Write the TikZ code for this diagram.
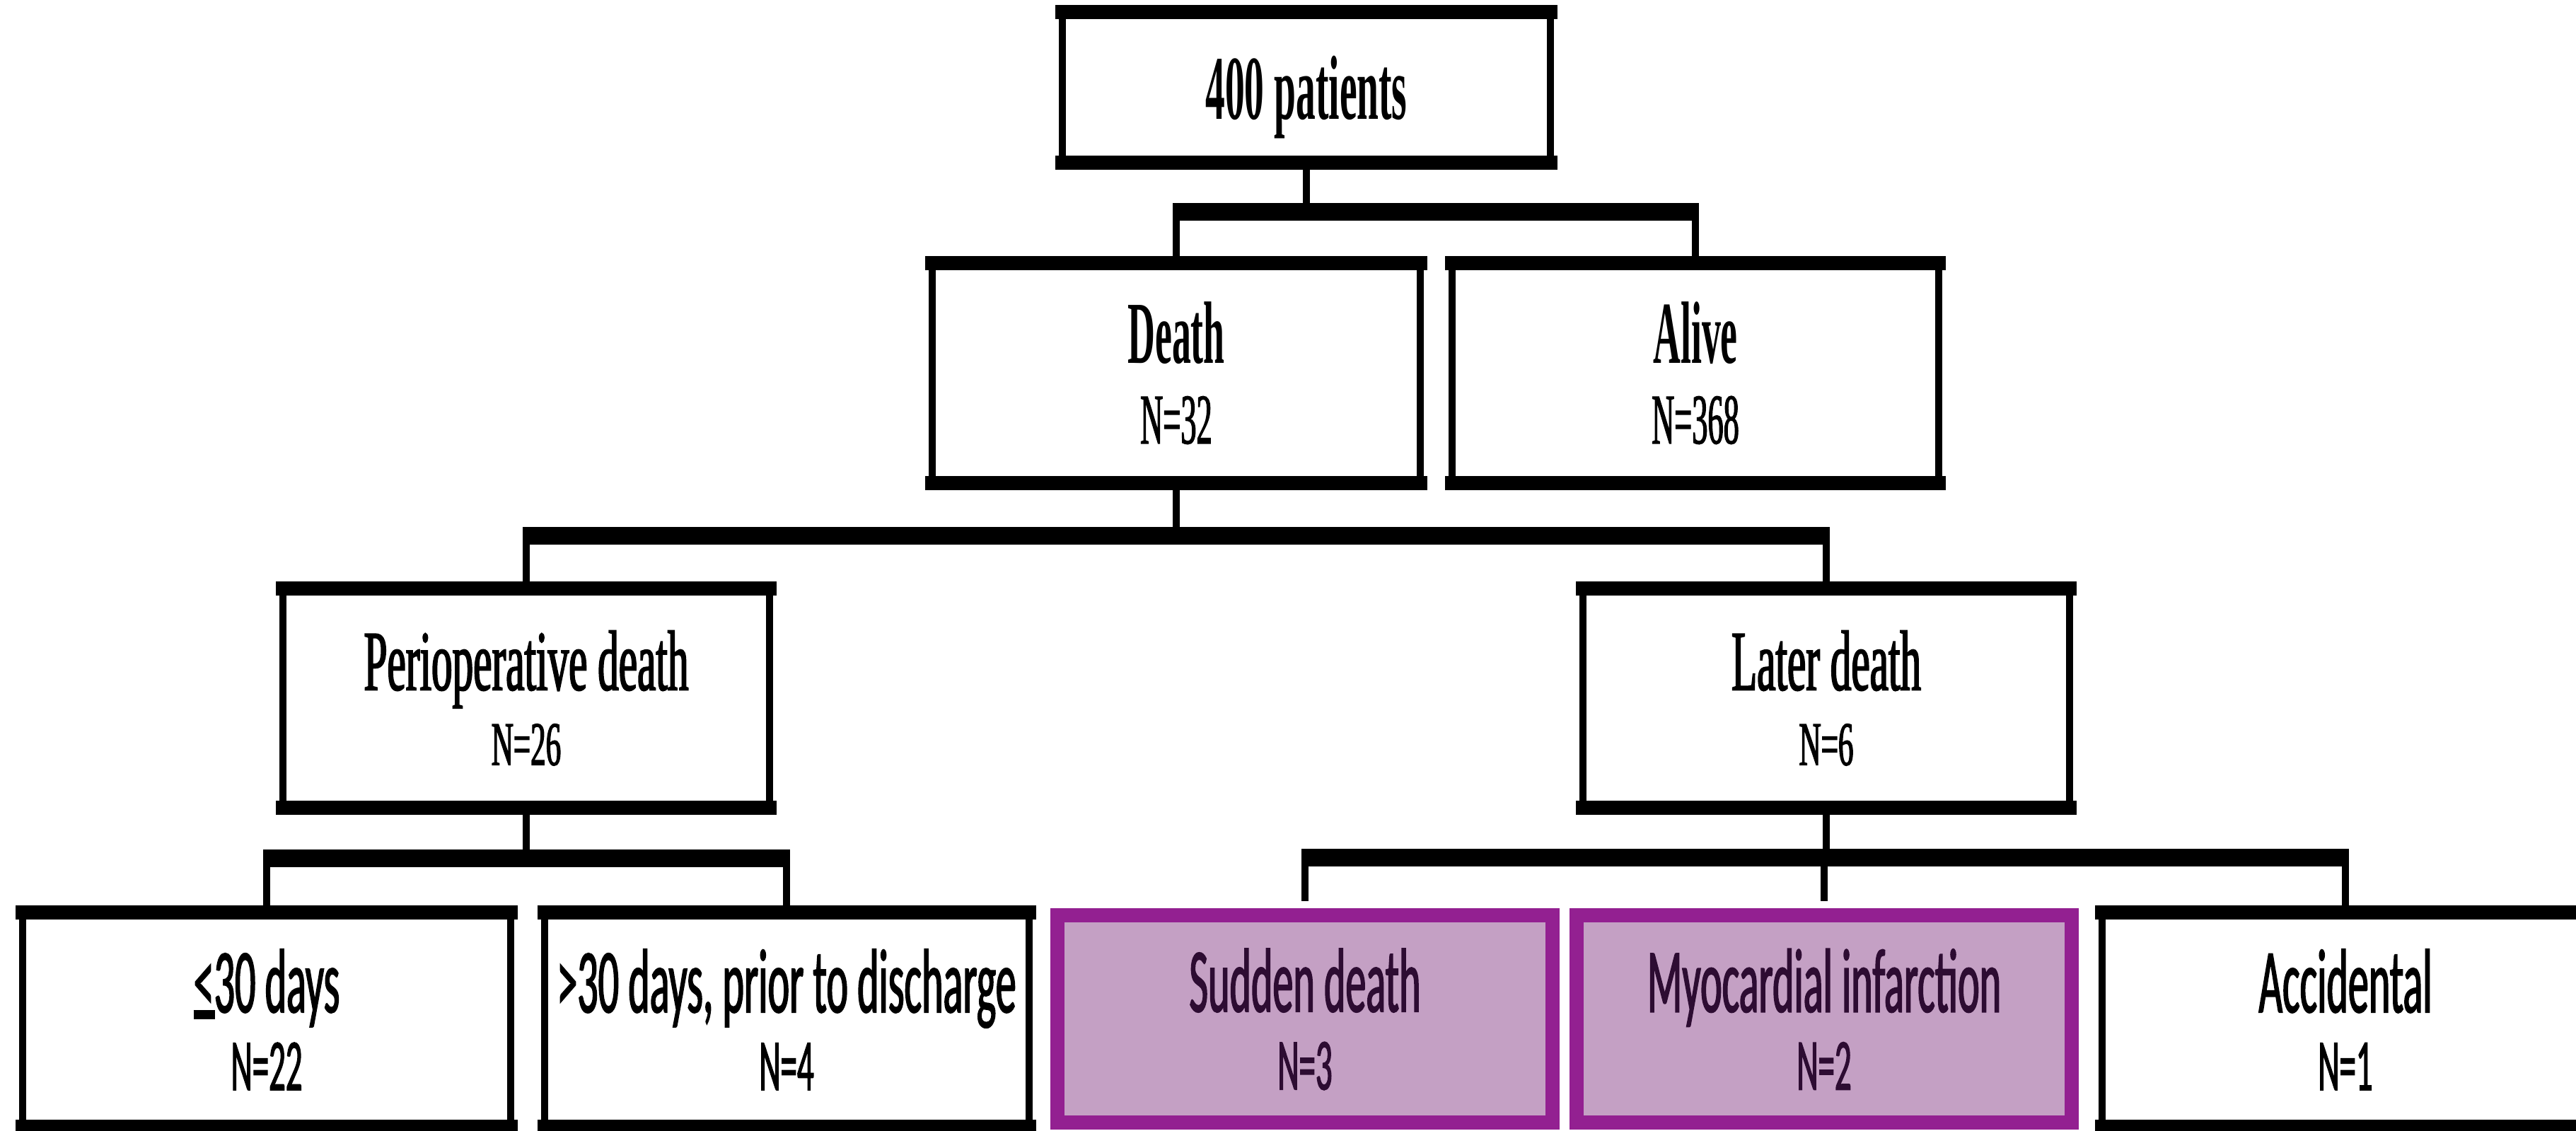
\documentclass[tikz,border=0pt]{standalone}
\usepackage{fontspec}
\usepackage{xcolor}
\usepackage{tikz}
\setmainfont{Liberation Serif}
\newfontfamily\topfont[FakeStretch=0.43]{Liberation Serif}
\newfontfamily\nfont[FakeStretch=0.44, FakeBold=1.2]{Liberation Serif}
\newfontfamily\midfont[FakeStretch=0.49, FakeBold=1.5]{Liberation Serif}
\newfontfamily\lowfont[FakeStretch=0.45, FakeBold=1.2]{Carlito}
\definecolor{mauve}{RGB}{196,160,196}
\definecolor{plum}{RGB}{147,32,145}
\definecolor{plumtext}{RGB}{45,12,50}
\newcommand{\onen}{\nfont\mdseries\fontsize{28.7pt}{32.2pt}\selectfont}
\newcommand{\twon}{\fontsize{25pt}{30.2pt}\selectfont}
\newcommand{\threen}{\fontsize{29.6pt}{31.3pt}\selectfont}
\newcommand{\leqsign}{\makebox[0pt][l]{\rule[-2.8pt]{8.5pt}{3.7pt}}<}

\begin{document}
\begin{tikzpicture}[box/.style={draw, line width=1mm, inner sep=0pt, align=center, minimum width=6.9cm,
  append after command={(\tikzlastnode.north west) edge[topbar] (\tikzlastnode.north east)
  (\tikzlastnode.south west) edge[topbar] (\tikzlastnode.south east)}},
  topbar/.style={line width=2mm, shorten <=-0.5mm, shorten >=-0.5mm},
  hibox/.style={draw=plum, fill=mauve, line width=2mm, inner sep=0pt, align=center, text=plumtext,
  minimum width=7cm, minimum height=2.98cm, lvthree},
  lvone/.style={font=\topfont\fontsize{35.6pt}{32.2pt}\selectfont, minimum height=3.01cm},
  lvtwo/.style={font=\midfont\fontsize{34.4pt}{30.2pt}\selectfont, minimum height=3cm},
  lvthree/.style={font=\lowfont\fontsize{36.7pt}{31.3pt}\selectfont, minimum height=2.93cm},
  stem/.style={line width=1mm}, bus/.style={line width=2.5mm, shorten <=-0.5mm, shorten >=-0.5mm}]
\useasboundingbox (0,0) rectangle (36.42,15.99);
\clip (0,0) rectangle (36.42,15.99);
\node[box, minimum height=2.03cm, text depth=0pt, font=\topfont\bfseries\fontsize{36.7pt}{40pt}\selectfont] (total) at (18.47,14.755) {400 patients};
\node[box, lvone] (death) at (16.63,10.715) {\bfseries Death\\ \onen N=32};
\node[box, lvone, minimum width=6.88cm] (alive) at (23.97,10.715) {\bfseries Alive\\ \onen N=368};
\node[box, lvtwo, minimum width=6.88cm] (periop) at (7.44,6.12) {Perioperative death\\ \twon N=26};
\node[box, lvtwo, minimum width=6.88cm] (later) at (25.82,6.12) {Later death\\ \twon N=6};
\node[box, lvthree] (early) at (3.77,1.575) {\leqsign30 days\\ \threen N=22};
\node[box, lvthree, minimum width=6.85cm] (discharge) at (11.12,1.575) {>30 days, prior to discharge\\ \threen N=4};
\node[hibox] (sudden) at (18.45,1.58) {Sudden death\\ \threen N=3};
\node[hibox] (infarct) at (25.79,1.58) {Myocardial infarction\\ \threen N=2};
\node[box, lvthree, minimum width=6.88cm] (accident) at (33.16,1.575) {Accidental\\ \threen N=1};
\coordinate (b1) at (18.47,12.99);
\coordinate (b2) at (16.63,8.41);
\coordinate (b3) at (7.44,3.85);
\coordinate (b4) at (25.82,3.86);
\path[stem]
(total.south) edge (total.south |- b1)
(death.north |- b1) edge (death.north)
(alive.north |- b1) edge (alive.north)
(death.south) edge (death.south |- b2)
(periop.north |- b2) edge (periop.north)
(later.north |- b2) edge (later.north)
(periop.south) edge (periop.south |- b3)
(early.north |- b3) edge (early.north)
(discharge.north |- b3) edge (discharge.north)
(later.south) edge (later.south |- b4)
(accident.north |- b4) edge (accident.north);
\path[stem, shorten >=1mm]
(sudden.north |- b4) edge (sudden.north)
(infarct.north |- b4) edge (infarct.north);
\path[bus]
(death.north |- b1) edge (alive.north |- b1)
(periop.north |- b2) edge (later.north |- b2)
(early.north |- b3) edge (discharge.north |- b3)
(sudden.north |- b4) edge (accident.north |- b4);
\end{tikzpicture}
\end{document}
